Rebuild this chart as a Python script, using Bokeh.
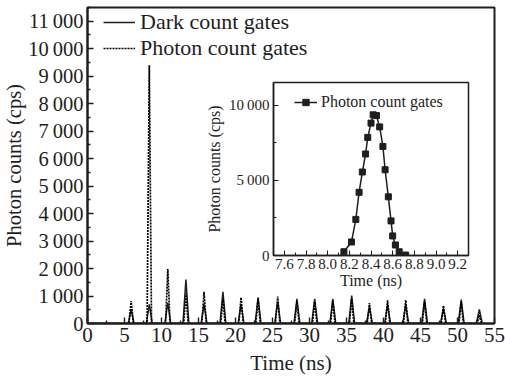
from bokeh.plotting import figure
from bokeh.layouts import column
from bokeh.models import Range1d, FixedTicker, CustomJSTickFormatter, NumeralTickFormatter, Legend, LegendItem
from bokeh.embed import file_html
from bokeh.resources import INLINE

# ---------------- data ----------------
gate_times = [5.9, 8.35, 10.85, 13.3, 15.75, 18.3, 20.75, 23.05, 25.7, 28.3,
              30.7, 33.15, 35.7, 38.1, 40.55, 43.0, 45.55, 48.1, 50.5, 52.95]
dark_heights = [500, 700, 750, 1600, 700, 1150, 700, 950, 800, 900,
                900, 900, 1020, 600, 700, 700, 900, 550, 870, 510]
photon_heights = [820, 9400, 1980, 1100, 1150, 900, 950, 900, 980, 800,
                  800, 820, 900, 740, 840, 850, 800, 650, 780, 300]

inset_time = [8.15, 8.22, 8.26, 8.29, 8.32, 8.35, 8.37, 8.40, 8.42, 8.45,
              8.48, 8.51, 8.53, 8.56, 8.585, 8.60, 8.625, 8.66, 8.72]
inset_counts = [250, 900, 2400, 4200, 5550, 6750, 7850, 8800, 9350, 9300,
                8550, 7250, 5700, 3900, 2300, 1300, 700, 250, 30]

main_x_ticks = [0, 5, 10, 15, 20, 25, 30, 35, 40, 45, 50, 55]
main_x_minor = [2.5, 7.5, 12.5, 17.5, 22.5, 27.5, 32.5, 37.5, 42.5, 47.5, 52.5]
main_y_ticks = [0, 1000, 2000, 3000, 4000, 5000, 6000, 7000, 8000, 9000, 10000, 11000]
main_y_minor = [500, 1500, 2500, 3500, 4500, 5500, 6500, 7500, 8500, 9500, 10500, 11500]
inset_x_ticks = [7.6, 7.8, 8.0, 8.2, 8.4, 8.6, 8.8, 9.0, 9.2]
inset_x_minor = [7.5, 7.7, 7.9, 8.1, 8.3, 8.5, 8.7, 8.9, 9.1, 9.3]
inset_y_ticks = [0, 5000, 10000]
inset_y_minor = [2500, 7500]

FONT = "'Liberation Serif'"
INK = "#1e1e1e"
PEAK_HW = 0.4
PHOTON_HW = 0.3


def peak_path(centers, heights, hw):
    xs, ys = [0.0], [0.0]
    for c, h in zip(centers, heights):
        xs += [c - hw, c, c + hw]
        ys += [0, h, 0]
    return xs, ys


JS_THIN = r"""
var s = Math.round(tick).toString();
return s.replace(/\B(?=(\d{3})+(?!\d))/g, "\u2009");
"""


def style_axis(ax, tick_fs, label_fs, lw, t_in, m_in, lstand, astand):
    ax.axis_line_color = INK
    ax.axis_line_width = lw
    ax.major_tick_line_color = INK
    ax.minor_tick_line_color = INK
    ax.major_tick_line_width = max(1, lw * 0.7)
    ax.minor_tick_line_width = max(1, lw * 0.7)
    ax.major_tick_in = t_in
    ax.major_tick_out = 0
    ax.minor_tick_in = m_in
    ax.minor_tick_out = 0
    ax.major_label_text_font = FONT
    ax.major_label_text_font_size = tick_fs
    ax.major_label_text_color = INK
    ax.major_label_standoff = lstand
    ax.axis_label_text_font = FONT
    ax.axis_label_text_font_size = label_fs
    ax.axis_label_text_font_style = "normal"
    ax.axis_label_text_color = INK
    ax.axis_label_standoff = astand


# ---------------- main figure ----------------
main = figure(width=505, height=378, output_backend="svg", toolbar_location=None,
              x_range=Range1d(0, 55), y_range=Range1d(0, 11500),
              min_border_left=86, min_border_right=11, min_border_top=7, min_border_bottom=55)
main.xgrid.visible = False
main.ygrid.visible = False
main.outline_line_color = INK
main.outline_line_width = 2
main.background_fill_color = "white"

dx, dy = peak_path(gate_times, dark_heights, PEAK_HW)
px, py = peak_path(gate_times, photon_heights, PHOTON_HW)
r_dark = main.line(dx, dy, line_color=INK, line_width=1.5)
r_phot = main.line(px, py, line_color="#000000", line_width=1.7, line_dash="2 1")

main.xaxis.ticker = FixedTicker(ticks=main_x_ticks, minor_ticks=main_x_minor)
main.yaxis.ticker = FixedTicker(ticks=main_y_ticks, minor_ticks=main_y_minor)
main.yaxis.formatter = CustomJSTickFormatter(code=JS_THIN)
main.xaxis.axis_label = "Time (ns)"
main.yaxis.axis_label = "Photon counts (cps)"
style_axis(main.xaxis[0], "21px", "21px", 2, 6, 3, 4, 6)
style_axis(main.yaxis[0], "20.5px", "20.5px", 2, 6, 3, 4, 0)

leg = Legend(items=[LegendItem(label="Dark count gates", renderers=[r_dark]),
                    LegendItem(label="Photon count gates", renderers=[r_phot])],
             location=(14, 260))
leg.background_fill_alpha = 0
leg.border_line_alpha = 0
leg.label_text_font = FONT
leg.label_text_font_size = "22px"
leg.label_text_color = INK
leg.glyph_width = 32
leg.glyph_height = 20
leg.label_height = 20
leg.spacing = 0
leg.padding = 2
leg.margin = 0
leg.label_standoff = 5
main.add_layout(leg)

# ---------------- inset figure ----------------
inset = figure(width=293, height=221, output_backend="svg", toolbar_location=None,
               x_range=Range1d(7.5, 9.3), y_range=Range1d(0, 11500),
               min_border_left=70, min_border_right=2, min_border_top=4, min_border_bottom=44)
inset.xgrid.visible = False
inset.ygrid.visible = False
inset.outline_line_color = INK
inset.outline_line_width = 1.5
inset.background_fill_color = "white"
inset.border_fill_alpha = 0

ri_line = inset.line(inset_time, inset_counts, line_color=INK, line_width=1.5)
ri_pts = inset.scatter(inset_time, inset_counts, marker="square", size=6,
                       fill_color=INK, line_color=INK)

inset.xaxis.ticker = FixedTicker(ticks=inset_x_ticks, minor_ticks=inset_x_minor)
inset.yaxis.ticker = FixedTicker(ticks=inset_y_ticks, minor_ticks=inset_y_minor)
inset.xaxis.formatter = NumeralTickFormatter(format="0.0")
inset.yaxis.formatter = CustomJSTickFormatter(code=JS_THIN)
inset.xaxis.axis_label = "Time (ns)"
inset.yaxis.axis_label = "Photon counts (cps)"
style_axis(inset.xaxis[0], "15px", "16px", 1.5, 5, 3, 3, 0)
style_axis(inset.yaxis[0], "15px", "16px", 1.5, 5, 3, 4, 3)

ileg = Legend(items=[LegendItem(label="Photon count gates", renderers=[ri_line, ri_pts])],
              location=(19, 142))
ileg.background_fill_alpha = 0
ileg.border_line_alpha = 0
ileg.label_text_font = FONT
ileg.label_text_font_size = "16px"
ileg.label_text_color = INK
ileg.glyph_width = 23
ileg.glyph_height = 16
ileg.label_height = 16
ileg.padding = 2
ileg.margin = 0
ileg.label_standoff = 4
inset.add_layout(ileg)

inset.margin = (78 - 378, 0, 0, 186)

layout = column(main, inset)
open("out.html", "w").write(file_html(layout, INLINE))
